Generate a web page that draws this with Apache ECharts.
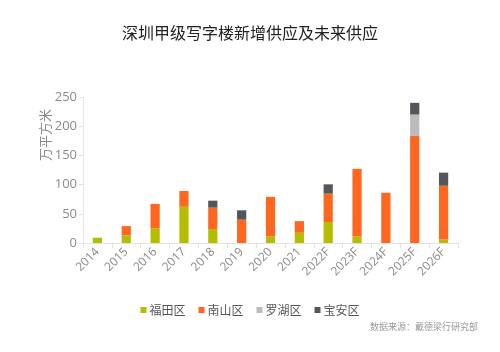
<!DOCTYPE html>
<html>
<head>
<meta charset="utf-8">
<script src="https://cdn.jsdelivr.net/npm/echarts@6/dist/echarts.min.js"></script>
<style>
  html, body { margin: 0; padding: 0; background: #fff; }
  #chart { width: 500px; height: 352px; }
</style>
</head>
<body>
<div id="chart"></div>
<script>
var categories = ['2014', '2015', '2016', '2017', '2018', '2019', '2020', '2021', '2022F', '2023F', '2024F', '2025F', '2026F']
var futian = [9, 13, 25.5, 62, 24, 0, 11, 17.5, 36, 11, 0, 0, 6]
var nanshan = [0, 16, 41.5, 27, 36.5, 40, 68, 20, 48.5, 116, 86, 184, 92]
var luohu = [0, 0, 0, 0, 0, 0, 0, 0, 0, 0, 0, 36, 0]
var baoan = [0, 0, 0, 0, 12, 16, 0, 0, 16, 0, 0, 20, 22.5]
var yTicks = [0, 50, 100, 150, 200, 250]

var font = '"Open Sans", "Noto Sans CJK SC", sans-serif'
var cjk = '"Noto Sans CJK SC", sans-serif'
var gray = '#8a8a8a'

function bar(name, data, color) {
  return {
    name: name,
    type: 'bar',
    stack: 'total',
    barWidth: '32%',
    data: data,
    itemStyle: { color: color }
  }
}

var chart = echarts.init(document.getElementById('chart'))
chart.setOption({
  animation: false,
  title: {
    text: '深圳甲级写字楼新增供应及未来供应',
    left: 'center',
    top: 20,
    textStyle: { fontSize: 16, fontWeight: 'normal', color: '#222', fontFamily: cjk }
  },
  graphic: [{
    type: 'text',
    right: 22,
    top: 322,
    style: { text: '数据来源：戴德梁行研究部', fill: '#999', fontSize: 9, fontFamily: cjk }
  }, {
    // y axis unit, rotated to read bottom to top
    type: 'text',
    x: 45,
    y: 135,
    rotation: Math.PI / 2,
    style: { text: '万平方米', fill: gray, fontSize: 13, fontFamily: cjk, align: 'center', verticalAlign: 'middle' }
  }],
  legend: {
    top: 299,
    left: 'center',
    itemWidth: 6,
    itemHeight: 6,
    itemGap: 13,
    icon: 'rect',
    textStyle: { fontSize: 12, color: '#555', fontFamily: cjk, padding: [0, 0, 0, -2] },
    data: ['福田区', '南山区', '罗湖区', '宝安区']
  },
  grid: { left: 83, right: 42, top: 97, bottom: 109 },
  xAxis: {
    type: 'category',
    data: categories,
    axisLine: { lineStyle: { color: '#e3e3e3' } },
    axisTick: { show: true, lineStyle: { color: '#e3e3e3' }, length: 5 },
    axisLabel: { rotate: 45, color: gray, fontSize: 12, fontFamily: font, margin: 7 }
  },
  yAxis: {
    type: 'value',
    min: 0,
    max: 250,
    interval: 50,
    axisLine: { show: true, lineStyle: { color: '#e3e3e3' } },
    axisTick: { show: true, length: 4, lineStyle: { color: '#e3e3e3' } },
    splitLine: { show: false },
    axisLabel: { color: gray, fontSize: 13, fontFamily: font, margin: 6,
      formatter: function (v) { return yTicks.indexOf(v) >= 0 ? String(v) : '' } }
  },
  series: [
    bar('福田区', futian, '#b5bd00'),
    bar('南山区', nanshan, '#ff6720'),
    bar('罗湖区', luohu, '#bcbcbc'),
    bar('宝安区', baoan, '#53565a')
  ]
})
</script>
</body>
</html>
